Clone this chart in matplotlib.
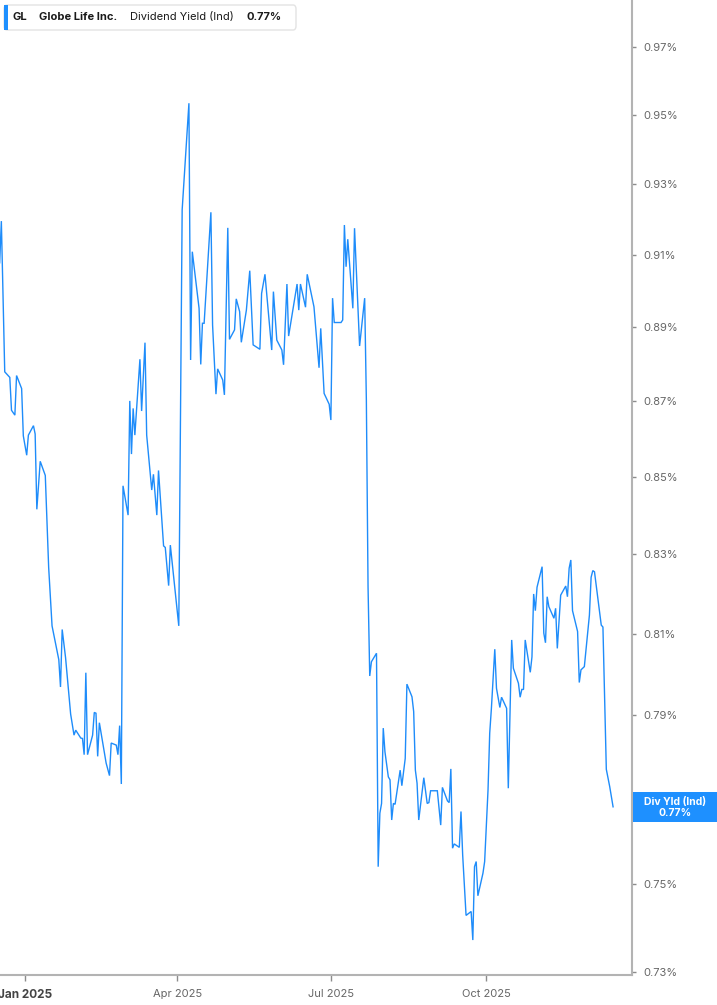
import matplotlib
matplotlib.use("Agg")
import matplotlib.pyplot as plt
from matplotlib.patches import FancyBboxPatch, Rectangle
from matplotlib.ticker import NullLocator, FixedLocator, FixedFormatter
import pandas as pd

plt.rcParams['font.family'] = ['Inter', 'DejaVu Sans']

# ---------------- data ----------------
dates = [
    "2024-12-17", "2024-12-18", "2024-12-20", "2024-12-23", "2024-12-24", "2024-12-26", "2024-12-27",
    "2024-12-30", "2024-12-31",
    "2025-01-02", "2025-01-03", "2025-01-06", "2025-01-07", "2025-01-08", "2025-01-10", "2025-01-13",
    "2025-01-15", "2025-01-17", "2025-01-21", "2025-01-22", "2025-01-23", "2025-01-25", "2025-01-28",
    "2025-01-30", "2025-01-31",
    "2025-02-03", "2025-02-04", "2025-02-05", "2025-02-06", "2025-02-07", "2025-02-10", "2025-02-11",
    "2025-02-12", "2025-02-13", "2025-02-14", "2025-02-18", "2025-02-20", "2025-02-21", "2025-02-24",
    "2025-02-25", "2025-02-26", "2025-02-27", "2025-02-28",
    "2025-03-03", "2025-03-04", "2025-03-05", "2025-03-06", "2025-03-07", "2025-03-10", "2025-03-11",
    "2025-03-13", "2025-03-14", "2025-03-17", "2025-03-18", "2025-03-20", "2025-03-21", "2025-03-24",
    "2025-03-25", "2025-03-27", "2025-03-28", "2025-03-31",
    "2025-04-02", "2025-04-04", "2025-04-08", "2025-04-09", "2025-04-10", "2025-04-14", "2025-04-15",
    "2025-04-16", "2025-04-17", "2025-04-21", "2025-04-22", "2025-04-24", "2025-04-25", "2025-04-28",
    "2025-04-29",
    "2025-05-01", "2025-05-02", "2025-05-05", "2025-05-06", "2025-05-08", "2025-05-09", "2025-05-12",
    "2025-05-14", "2025-05-16", "2025-05-19", "2025-05-20", "2025-05-21", "2025-05-23", "2025-05-25",
    "2025-05-27", "2025-05-28", "2025-05-30",
    "2025-06-02", "2025-06-03", "2025-06-05", "2025-06-06", "2025-06-11", "2025-06-12", "2025-06-13",
    "2025-06-16", "2025-06-17", "2025-06-21", "2025-06-24", "2025-06-25", "2025-06-27", "2025-06-30",
    "2025-07-01", "2025-07-02", "2025-07-03", "2025-07-07", "2025-07-08", "2025-07-09", "2025-07-10",
    "2025-07-11", "2025-07-14", "2025-07-15", "2025-07-18", "2025-07-21", "2025-07-22", "2025-07-23",
    "2025-07-24", "2025-07-25", "2025-07-28", "2025-07-29", "2025-07-30", "2025-07-31",
    "2025-08-01", "2025-08-02", "2025-08-04", "2025-08-05", "2025-08-06", "2025-08-07", "2025-08-08",
    "2025-08-11", "2025-08-12", "2025-08-14", "2025-08-15", "2025-08-18", "2025-08-19", "2025-08-20",
    "2025-08-21", "2025-08-22", "2025-08-25", "2025-08-27", "2025-08-28", "2025-08-29",
    "2025-09-02", "2025-09-04", "2025-09-05", "2025-09-08", "2025-09-09", "2025-09-10", "2025-09-11",
    "2025-09-12", "2025-09-15", "2025-09-16", "2025-09-17", "2025-09-19", "2025-09-22", "2025-09-23",
    "2025-09-24", "2025-09-25", "2025-09-26", "2025-09-29", "2025-09-30",
    "2025-10-02", "2025-10-03", "2025-10-04", "2025-10-06", "2025-10-07", "2025-10-09", "2025-10-10",
    "2025-10-13", "2025-10-14", "2025-10-16", "2025-10-17", "2025-10-20", "2025-10-21", "2025-10-22",
    "2025-10-23", "2025-10-24", "2025-10-27", "2025-10-28", "2025-10-29", "2025-10-30", "2025-10-31",
    "2025-11-03", "2025-11-04", "2025-11-05", "2025-11-06", "2025-11-07", "2025-11-10", "2025-11-11",
    "2025-11-12", "2025-11-14", "2025-11-17", "2025-11-18", "2025-11-19", "2025-11-20", "2025-11-21",
    "2025-11-24", "2025-11-25", "2025-11-26", "2025-11-28",
    "2025-12-01", "2025-12-02", "2025-12-03", "2025-12-04", "2025-12-08", "2025-12-09", "2025-12-11",
    "2025-12-13", "2025-12-15",
]

yields = [
    0.9077, 0.9194, 0.8778, 0.8763, 0.8675, 0.8662, 0.8768,
    0.8733, 0.8607,
    0.8556, 0.8609, 0.8634, 0.8612, 0.8415, 0.8540, 0.8503,
    0.8266, 0.8119, 0.8035, 0.7968, 0.8110, 0.8040, 0.7902,
    0.7851, 0.7863,
    0.7844, 0.7843, 0.7804, 0.8003, 0.7804, 0.7851, 0.7906,
    0.7904, 0.7800, 0.7881, 0.7784, 0.7754, 0.7832, 0.7827,
    0.7804, 0.7874, 0.7734, 0.8476,
    0.8400, 0.8700, 0.8559, 0.8680, 0.8609, 0.8812, 0.8673,
    0.8857, 0.8609, 0.8465, 0.8506, 0.8400, 0.8516, 0.8321,
    0.8317, 0.8220, 0.8323, 0.8201,
    0.8119, 0.9226, 0.9533, 0.8810, 0.9108, 0.8951, 0.8798,
    0.8910, 0.8910, 0.9219, 0.8905, 0.8718, 0.8786, 0.8756,
    0.8716,
    0.9175, 0.8866, 0.8892, 0.8977, 0.8942, 0.8858, 0.8946,
    0.9055, 0.8851, 0.8842, 0.8839, 0.8992, 0.9045, 0.8942,
    0.8837, 0.8997, 0.8864,
    0.8837, 0.8797, 0.9018, 0.8875, 0.9018, 0.8946, 0.9018,
    0.8954, 0.9045, 0.8955, 0.8789, 0.8896, 0.8720, 0.8691,
    0.8649, 0.8979, 0.8912, 0.8912, 0.8919, 0.9183, 0.9066,
    0.9143, 0.8951, 0.9174, 0.8848, 0.8979, 0.8702, 0.8217,
    0.7995, 0.8030, 0.8051, 0.7540, 0.7665, 0.7688,
    0.7868, 0.7811, 0.7751, 0.7744, 0.7649, 0.7688, 0.7686,
    0.7767, 0.7730, 0.7795, 0.7975, 0.7944, 0.7908, 0.7767,
    0.7736, 0.7649, 0.7749, 0.7688, 0.7690, 0.7718,
    0.7718, 0.7637, 0.7726, 0.7694, 0.7690, 0.7770, 0.7583,
    0.7593, 0.7585, 0.7669, 0.7567, 0.7428, 0.7437, 0.7372,
    0.7540, 0.7552, 0.7473, 0.7525, 0.7552,
    0.7720, 0.7856, 0.7916, 0.8061, 0.7965, 0.7918, 0.7943,
    0.7916, 0.7724, 0.8084, 0.8014, 0.7977, 0.7943, 0.7962,
    0.7962, 0.8084, 0.8004, 0.8042, 0.8199, 0.8157, 0.8216,
    0.8268, 0.8101, 0.8077, 0.8192, 0.8167, 0.8138, 0.8163,
    0.8063, 0.8196, 0.8219, 0.8192, 0.8264, 0.8285, 0.8157,
    0.8105, 0.7979, 0.8010, 0.8018,
    0.8146, 0.8241, 0.8258, 0.8255, 0.8121, 0.8116, 0.7769,
    0.7728, 0.7680,
]

y_ticks = [0.73, 0.75, 0.77, 0.79, 0.81, 0.83, 0.85, 0.87, 0.89, 0.91, 0.93, 0.95, 0.97]
y_tick_labels = ["0.73%", "0.75%", "0.77%", "0.79%", "0.81%", "0.83%", "0.85%",
                 "0.87%", "0.89%", "0.91%", "0.93%", "0.95%", "0.97%"]
x_ticks = ["2025-01-01", "2025-04-01", "2025-07-01", "2025-10-01"]
x_tick_labels = ["Jan 2025", "Apr 2025", "Jul 2025", "Oct 2025"]

ticker = "GL"
company = "Globe Life Inc."
metric = "Dividend Yield (Ind)"
last_value = "0.77%"
badge_title = "Div Yld (Ind)"

# ---------------- styling ----------------
LINE = "#1E8CFA"
BADGE = "#1E90FF"
AXIS = "#b3b3b3"
TICKTXT = "#666666"

W, H = 717, 1005
fig = plt.figure(figsize=(W / 100, H / 100), dpi=100)
fig.patch.set_facecolor("white")

def fx(px):
    return px / W

def fy(py):
    return 1 - py / H

ax = fig.add_axes([0, fy(975), fx(632), 975 / H])
ax.set_facecolor("white")

ax.plot(pd.to_datetime(dates), yields, color=LINE, lw=1.0, solid_joinstyle="miter")

ax.set_yscale("log")
ax.set_ylim(0.72933, 0.98402)
jan1 = pd.Timestamp("2025-01-01")
ax.set_xlim(jan1 - pd.Timedelta(days=14.8), jan1 + pd.Timedelta(days=359.2))

ax.yaxis.tick_right()
ax.yaxis.set_major_locator(FixedLocator(y_ticks))
ax.yaxis.set_major_formatter(FixedFormatter(y_tick_labels))
ax.yaxis.set_minor_locator(NullLocator())
ax.tick_params(axis="y", which="major", direction="out", length=3, width=1,
               color="#8c8c8c", pad=5, labelsize=8, labelcolor=TICKTXT)

ax.set_xticks(pd.to_datetime(x_ticks))
ax.set_xticklabels(x_tick_labels)
ax.xaxis.set_minor_locator(NullLocator())
ax.tick_params(axis="x", which="major", direction="out", length=4, width=1,
               color="#8c8c8c", pad=6, labelsize=8, labelcolor=TICKTXT)
first = ax.get_xticklabels()[0]
first.set_fontweight("bold")
first.set_fontsize(8.5)
first.set_color("#444444")

for s in ["top", "left"]:
    ax.spines[s].set_visible(False)
for s in ["right", "bottom"]:
    ax.spines[s].set_color(AXIS)
    ax.spines[s].set_linewidth(1.5)

# right-side value badge
fig.patches.append(Rectangle((fx(633), fy(822)), fx(717) - fx(633), (822 - 792) / H,
                             transform=fig.transFigure, facecolor=BADGE, edgecolor="none", zorder=5))
fig.text(fx(675), fy(801.5), badge_title, color="white", fontsize=7.5, fontweight="bold",
         ha="center", va="center", zorder=6)
fig.text(fx(675), fy(813), last_value, color="white", fontsize=7.5, fontweight="bold",
         ha="center", va="center", zorder=6)

# top-left legend box
fig.patches.append(FancyBboxPatch((fx(4), fy(30)), fx(296) - fx(4), (30 - 5) / H,
                                  boxstyle="round,pad=0,rounding_size=0.004",
                                  transform=fig.transFigure, facecolor="white",
                                  edgecolor="#e3e3e3", linewidth=1.0, zorder=5))
fig.patches.append(Rectangle((fx(4), fy(30)), fx(3.5), (30 - 5) / H,
                             transform=fig.transFigure, facecolor=BADGE, edgecolor="none", zorder=6))
ty = fy(17)
fig.text(fx(13), ty, ticker, fontsize=8, fontweight="bold", color="#1a1a1a", va="center", zorder=7)
fig.text(fx(39), ty, company, fontsize=8, fontweight="bold", color="#1a1a1a", va="center", zorder=7)
fig.text(fx(130), ty, metric, fontsize=8, color="#1a1a1a", va="center", zorder=7)
fig.text(fx(246.5), ty, last_value, fontsize=8, fontweight="bold", color="#1a1a1a", va="center", zorder=7)

fig.savefig("out.png", dpi=100, facecolor="white")
